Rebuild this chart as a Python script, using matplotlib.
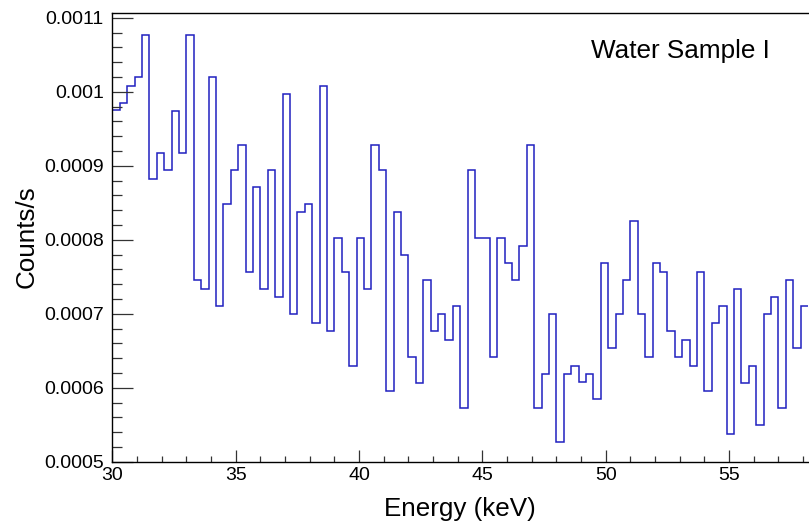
import numpy as np
import matplotlib
matplotlib.use("Agg")
import matplotlib.pyplot as plt
from matplotlib.ticker import MultipleLocator, FixedLocator, FixedFormatter

# histogram: 0.3 keV bins starting at 30 keV
bin_start = 30.0
bin_width = 0.3
counts = [
    0.000975, 0.000985, 0.001008, 0.001020, 0.001077, 0.000882, 0.000917, 0.000894,
    0.000974, 0.000917, 0.001077, 0.000745, 0.000733, 0.001020, 0.000711, 0.000848,
    0.000894, 0.000928, 0.000756, 0.000871, 0.000733, 0.000894, 0.000722, 0.000997,
    0.000699, 0.000837, 0.000848, 0.000688, 0.001008, 0.000676, 0.000802, 0.000756,
    0.000630, 0.000802, 0.000733, 0.000928, 0.000894, 0.000596, 0.000837, 0.000779,
    0.000642, 0.000607, 0.000745, 0.000676, 0.000699, 0.000665, 0.000711, 0.000573,
    0.000894, 0.000802, 0.000802, 0.000642, 0.000802, 0.000768, 0.000745, 0.000791,
    0.000928, 0.000573, 0.000619, 0.000699, 0.000527, 0.000619, 0.000630, 0.000608,
    0.000619, 0.000585, 0.000768, 0.000653, 0.000699, 0.000745, 0.000825, 0.000699,
    0.000642, 0.000768, 0.000756, 0.000676, 0.000642, 0.000665, 0.000630, 0.000756,
    0.000596, 0.000688, 0.000711, 0.000538, 0.000733, 0.000607, 0.000630, 0.000550,
    0.000699, 0.000722, 0.000573, 0.000745, 0.000653, 0.000711,
]

y_ticks = [0.0005, 0.0006, 0.0007, 0.0008, 0.0009, 0.0010, 0.0011]
y_tick_labels = ["0.0005", "0.0006", "0.0007", "0.0008", "0.0009", "0.001", "0.0011"]
x_ticks = [30, 35, 40, 45, 50, 55]
x_tick_labels = ["30", "35", "40", "45", "50", "55"]


def main():
    plt.rcParams['font.family'] = ['Liberation Sans', 'DejaVu Sans']

    fig = plt.figure(figsize=(8.09, 5.28), dpi=100)
    # frame in pixels: left 112, right 808, top 13, bottom 462
    ax = fig.add_axes([112.3 / 809, 66.3 / 528, 695.7 / 809, 448.4 / 528])

    edges = bin_start + bin_width * np.arange(len(counts) + 1)
    ax.stairs(counts, edges, baseline=None, color='#2020c0', linewidth=1.1)

    ax.set_xlim(30, 58.2)
    ax.set_ylim(0.0005, 0.001106)

    ax.xaxis.set_major_locator(FixedLocator(x_ticks))
    ax.xaxis.set_major_formatter(FixedFormatter(x_tick_labels))
    ax.xaxis.set_minor_locator(MultipleLocator(1))
    ax.yaxis.set_major_locator(FixedLocator(y_ticks))
    ax.yaxis.set_major_formatter(FixedFormatter(y_tick_labels))
    ax.yaxis.set_minor_locator(MultipleLocator(0.00002))

    ax.tick_params(axis='both', which='both', direction='in', top=False, right=False,
                   color='#333333', width=0.9, labelsize=14)
    ax.tick_params(axis='y', which='major', length=15, pad=6)
    ax.tick_params(axis='y', which='minor', length=7.2)
    ax.tick_params(axis='x', which='major', length=8.6, pad=4)
    ax.tick_params(axis='x', which='minor', length=4.3)

    for s in ax.spines.values():
        s.set_linewidth(1.0)
    ax.spines['right'].set_visible(False)

    ax.set_xlabel('Energy (keV)', fontsize=18.7)
    ax.xaxis.label.set_verticalalignment('baseline')
    ax.xaxis.set_label_coords((460 - 112.3) / 695.7, (461.7 - 516) / 448.4)

    ax.set_ylabel('Counts/s', fontsize=18.7)
    ax.yaxis.label.set_verticalalignment('center')
    ax.yaxis.set_label_coords((27 - 112.3) / 695.7, (461.7 - 237) / 448.4)

    ax.text((591 - 112.3) / 695.7, (461.7 - 58) / 448.4, 'Water Sample I',
            transform=ax.transAxes, fontsize=18.8, ha='left', va='baseline')

    fig.savefig('out.png', dpi=100)


if __name__ == "__main__":
    main()
